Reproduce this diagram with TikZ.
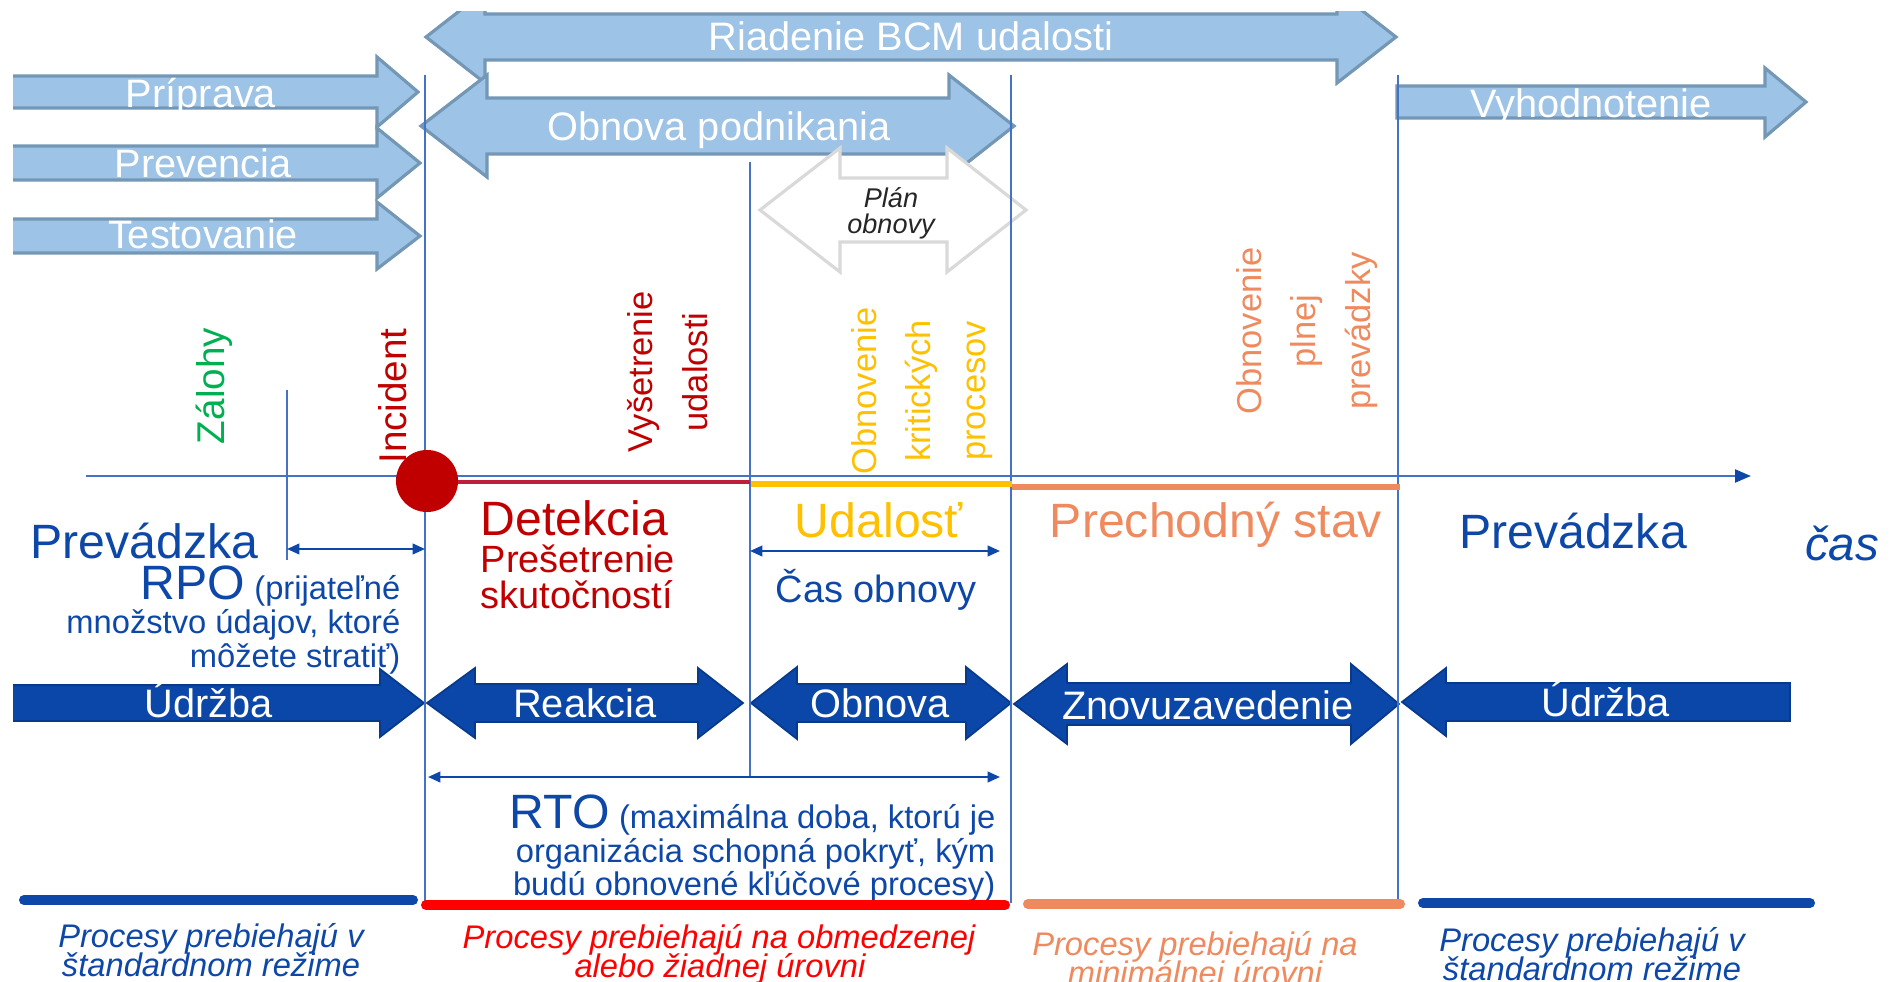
\documentclass[tikz,border=0pt]{standalone}
\usepackage{fontspec}
\setmainfont{Liberation Sans}
\usetikzlibrary{arrows.meta}

\definecolor{lightfill}{HTML}{9DC3E6}
\definecolor{lightedge}{HTML}{7397B5}
\definecolor{darkfill}{HTML}{0B47A8}
\definecolor{darkedge}{HTML}{083A8C}
\definecolor{gridblue}{HTML}{4472C4}
\definecolor{textblue}{HTML}{0D47A8}
\definecolor{incred}{HTML}{C00000}
\definecolor{detline}{HTML}{BE1E3C}
\definecolor{backupgreen}{HTML}{00B050}
\definecolor{eventyellow}{HTML}{FFC000}
\definecolor{transorange}{HTML}{EF8A5E}
\definecolor{planedge}{HTML}{D9D9D9}
\definecolor{limitred}{HTML}{FF0000}

\tikzset{
  lightarrow/.style={fill=lightfill, draw=lightedge, line width=0.9pt},
  darkarrow/.style={fill=darkfill, draw=darkedge, line width=0.5pt},
  planarrow/.style={fill=white, draw=planedge, line width=0.9pt},
  arrowlabel/.style={text=white, font=\fontsize{11.3}{13}\selectfont, anchor=base, inner sep=0pt},
  plantext/.style={text=black!85, font=\itshape\fontsize{7.7}{9}\selectfont, anchor=base, inner sep=0pt},
  phaseline/.style={draw=gridblue, line width=0.5pt},
  spanarrow/.style={draw=textblue, line width=0.6pt, >={Triangle[length=3.5pt,width=3pt]}, <->},
  bigtext/.style={font=\fontsize{13.7}{16}\selectfont, anchor=base, inner sep=0pt},
  midtext/.style={font=\fontsize{10.8}{13}\selectfont, anchor=base, inner sep=0pt},
  smalltext/.style={font=\fontsize{9.3}{11}\selectfont, anchor=base east, inner sep=0pt, text=textblue},
  steptext/.style={rotate=90, align=center, font=\fontsize{9.8}{15.6}\selectfont},
  notetext/.style={font=\itshape\fontsize{9.3}{11}\selectfont, anchor=base, inner sep=0pt},
  procbar/.style={line width=2.85pt, line cap=round},
}

\begin{document}
\begin{tikzpicture}[x=0.01cm, y=-0.01cm]
  \useasboundingbox (0,0) rectangle (1890,982);

  % light blue arrows at the top
  \begin{scope}
    \clip (13,12) rectangle (1890,982);
    \draw[lightarrow] (426,37) -- (485,-9) -- (485,14) -- (1337,14) -- (1337,-9) -- (1396,37)
      -- (1337,83) -- (1337,60) -- (485,60) -- (485,83) -- cycle;
    \draw[lightarrow] (421,126) -- (487,75) -- (487,98) -- (949,98) -- (949,75) -- (1014,126)
      -- (949,177) -- (949,154) -- (487,154) -- (487,177) -- cycle;
    \draw[lightarrow] (8,76) -- (377,76) -- (377,57) -- (418,92) -- (377,127) -- (377,108) -- (8,108) -- cycle;
    \draw[lightarrow] (8,146) -- (377,146) -- (377,128) -- (420,163) -- (377,198) -- (377,180) -- (8,180) -- cycle;
    \draw[lightarrow] (8,219) -- (377,219) -- (377,202) -- (420,236) -- (377,269) -- (377,253) -- (8,253) -- cycle;
    \draw[darkarrow] (8,685) -- (380,685) -- (380,669) -- (424,703) -- (380,737) -- (380,721) -- (8,721) -- cycle;
  \end{scope}
  \draw[lightarrow] (1397,86) -- (1765,86) -- (1765,68) -- (1806,102) -- (1765,137) -- (1765,118) -- (1397,118) -- cycle;
  \draw[planarrow] (760,210) -- (840,148) -- (840,178) -- (947,178) -- (947,148) -- (1026,210)
    -- (947,272) -- (947,242) -- (840,242) -- (840,272) -- cycle;

  \node[arrowlabel] (riadenie) at (911,51) {Riadenie BCM udalosti};
  \node[arrowlabel] (obnovapod) at (719,141) {Obnova podnikania};
  \node[arrowlabel] (priprava) at (201,108) {Príprava};
  \node[arrowlabel] (prevencia) at (203,178) {Prevencia};
  \node[arrowlabel] (testovanie) at (203,249) {Testovanie};
  \node[arrowlabel] (vyhodnotenie) at (1591,118) {Vyhodnotenie};
  \node[plantext] (plan1) at (891,208) {Plán};
  \node[plantext] (plan2) at (891,234) {obnovy};

  % dark blue arrows
  \draw[darkarrow] (427,703) -- (475,668) -- (475,684) -- (698,684) -- (698,668) -- (743,703)
    -- (698,738) -- (698,722) -- (475,722) -- (475,738) -- cycle;
  \draw[darkarrow] (751,703) -- (797,667) -- (797,684) -- (966,684) -- (966,667) -- (1011,703)
    -- (966,739) -- (966,722) -- (797,722) -- (797,739) -- cycle;
  \draw[darkarrow] (1014,704) -- (1067,664) -- (1067,683) -- (1351,683) -- (1351,664) -- (1399,704)
    -- (1351,744) -- (1351,725) -- (1067,725) -- (1067,744) -- cycle;
  \draw[darkarrow] (1402,702) -- (1446,668) -- (1446,683) -- (1790,683) -- (1790,721) -- (1446,721) -- (1446,736) -- cycle;

  \node[arrowlabel] (udrzba1) at (209,717) {Údržba};
  \node[arrowlabel] (reakcia) at (585,717) {Reakcia};
  \node[arrowlabel] (obnova) at (880,717) {Obnova};
  \node[arrowlabel] (znovu) at (1208,719) {Znovuzavedenie};
  \node[arrowlabel] (udrzba2) at (1606,716) {Údržba};

  % phase lines and time axis
  \draw[phaseline] (425,75) -- (425,903);
  \draw[phaseline] (750,162) -- (750,777);
  \draw[phaseline] (1011,75) -- (1011,903);
  \draw[phaseline] (1398,75) -- (1398,903);
  \draw[phaseline] (287,390) -- (287,560);
  \draw[draw=gridblue, line width=0.8pt, -{Triangle[length=4.5pt,width=3.6pt,color=textblue]}] (86,476) -- (1751,476);

  \draw[detline, line width=1.4pt] (428,482) -- (750,482);
  \draw[eventyellow, line width=1.7pt] (751,484) -- (1012,484);
  \draw[transorange, line width=1.7pt] (1012,487) -- (1400,487);
  \node[circle, fill=incred, inner sep=0pt, minimum size=0.62cm] (incident) at (427,481) {};

  % rotated milestones
  \node[rotate=90, text=backupgreen, font=\fontsize{11}{13}\selectfont] (zalohy) at (214,386) {Zálohy};
  \node[rotate=90, text=incred, font=\fontsize{11}{13}\selectfont] (incidentlabel) at (393,396) {Incident};
  \node[steptext, text=incred] (vysetrenie) at (668,372) {Vyšetrenie\\udalosti};
  \node[steptext, text=eventyellow] (kriticke) at (922,391) {Obnovenie\\kritických\\procesov};
  \node[steptext, text=transorange] (plna) at (1307,331) {Obnovenie\\plnej\\prevádzky};

  % states below the axis
  \node[bigtext, text=textblue, anchor=base west] (prevadzka1) at (30,558) {Prevádzka};
  \node[smalltext] (rpo1) at (401,599) {{\fontsize{13.7}{16}\selectfont RPO} (prijateľné};
  \node[smalltext] (rpo2) at (401,633) {množstvo údajov, ktoré};
  \node[smalltext] (rpo3) at (401,667) {môžete stratiť)};
  \node[bigtext, text=incred, anchor=base west] (detekcia) at (480,535) {Detekcia};
  \node[midtext, text=incred, anchor=base west] (presetrenie) at (480,572) {Prešetrenie};
  \node[midtext, text=incred, anchor=base west] (skutocnosti) at (480,608) {skutočností};
  \node[bigtext, text=eventyellow] (udalost) at (879,537) {Udalosť};
  \node[midtext, text=textblue] (casobnovy) at (876,602) {Čas obnovy};
  \node[bigtext, text=transorange] (prechodny) at (1216,537) {Prechodný stav};
  \node[bigtext, text=textblue] (prevadzka2) at (1573,548) {Prevádzka};
  \node[bigtext, text=textblue, font=\itshape\fontsize{13.5}{16}\selectfont] (cas) at (1842,560) {čas};

  % time spans
  \coordinate (rpoL) at (287,549);
  \coordinate (rpoR) at (425,549);
  \coordinate (casL) at (750,551);
  \coordinate (casR) at (1000,551);
  \coordinate (rtoL) at (428,777);
  \coordinate (rtoR) at (1000,777);
  \draw[spanarrow] (rpoL) -- (rpoR);
  \draw[spanarrow] (casL) -- (casR);
  \draw[spanarrow] (rtoL) -- (rtoR);

  \node[smalltext] (rto1) at (996,828) {{\fontsize{13.7}{16}\selectfont RTO} (maximálna doba, ktorú je};
  \node[smalltext] (rto2) at (996,862) {organizácia schopná pokryť, kým};
  \node[smalltext] (rto3) at (996,895) {budú obnovené kľúčové procesy)};

  % process level bars
  \draw[procbar, textblue] (24,900) -- (413,900);
  \draw[procbar, limitred] (426,905) -- (1005,905);
  \draw[procbar, transorange] (1028,904) -- (1400,904);
  \draw[procbar, textblue] (1423,903) -- (1810,903);

  \node[notetext, text=textblue] (std1a) at (211,947) {Procesy prebiehajú v};
  \node[notetext, text=textblue] (std1b) at (211,976) {štandardnom režime};
  \node[notetext, text=limitred] (lim1) at (719,948) {Procesy prebiehajú na obmedzenej};
  \node[notetext, text=limitred] (lim2) at (720,977) {alebo žiadnej úrovni};
  \node[notetext, text=transorange] (min1) at (1195,955) {Procesy prebiehajú na};
  \node[notetext, text=transorange] (min2) at (1195,984) {minimálnej úrovni};
  \node[notetext, text=textblue] (std2a) at (1592,951) {Procesy prebiehajú v};
  \node[notetext, text=textblue] (std2b) at (1592,980) {štandardnom režime};
\end{tikzpicture}
\end{document}
